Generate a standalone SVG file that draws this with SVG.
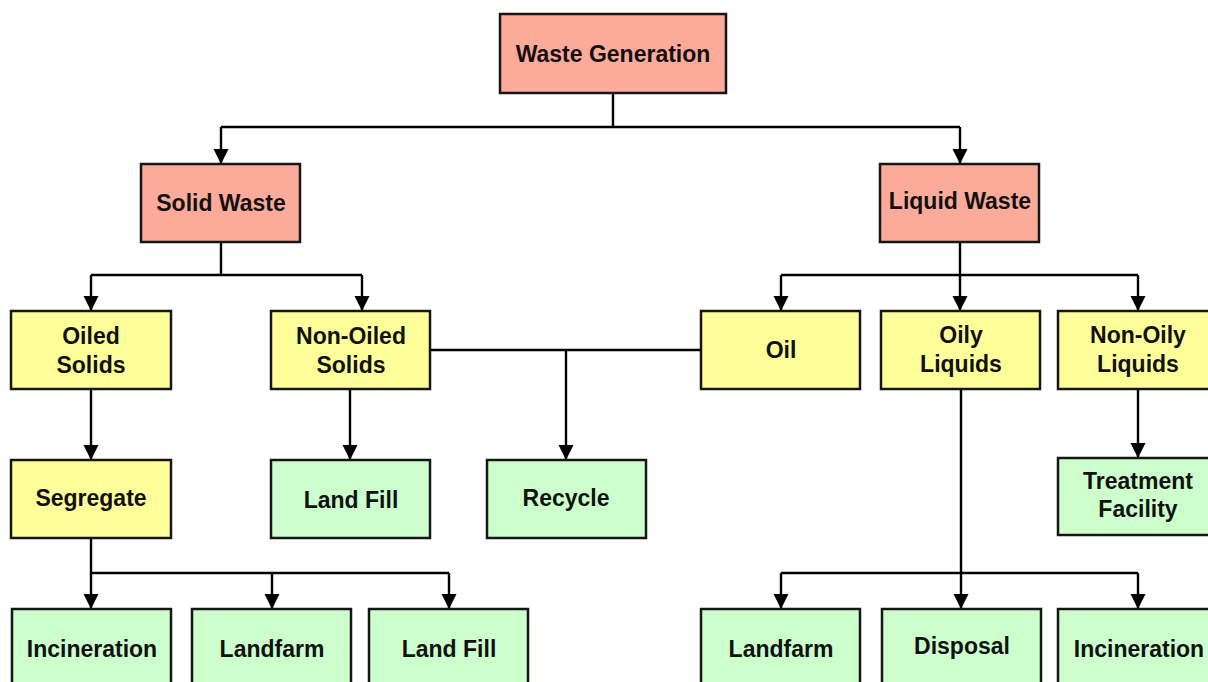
<svg xmlns="http://www.w3.org/2000/svg" width="1208" height="682" viewBox="0 0 1208 682">
  <style>
    .box { stroke: #161616; stroke-width: 2.5; }
    .top { fill: #FCAA9A; }
    .mid { fill: #FFFF99; }
    .end { fill: #CCFFCC; }
    .lbl { font-family: "Liberation Sans", Arial, sans-serif; font-weight: bold; font-size: 23px; fill: #111; text-anchor: middle; }
    .wire { fill: none; stroke: #000; stroke-width: 2.4; }
    .arrow { fill: none; stroke: #000; stroke-width: 2.4; marker-end: url(#head); }
  </style>
  <defs>
    <marker id="head" markerUnits="userSpaceOnUse" markerWidth="16" markerHeight="16" viewBox="0 0 16 16" refX="15" refY="8" orient="auto">
      <path d="M0,0.5 L15,8 L0,15.5 z" fill="#000"/>
    </marker>
  </defs>
  <rect width="1208" height="682" fill="#fff"/>

  <!-- connectors -->
  <g id="connectors">
    <!-- Waste Generation split -->
    <path class="wire" d="M613,93 V127 M221,127 H960"/>
    <path class="arrow" d="M221,127 V164"/>
    <path class="arrow" d="M960,127 V164"/>
    <!-- Solid Waste split -->
    <path class="wire" d="M221,242 V275 M91,275 H362"/>
    <path class="arrow" d="M91,275 V311"/>
    <path class="arrow" d="M362,275 V311"/>
    <!-- Liquid Waste split -->
    <path class="wire" d="M960,242 V275 M781,275 H1138"/>
    <path class="arrow" d="M781,275 V311"/>
    <path class="arrow" d="M960,275 V311"/>
    <path class="arrow" d="M1138,275 V311"/>
    <!-- second level to treatments -->
    <path class="arrow" d="M91,389 V460"/>
    <path class="arrow" d="M350,389 V460"/>
    <path class="wire" d="M430,350 H701"/>
    <path class="arrow" d="M566,350 V460"/>
    <path class="arrow" d="M1138,389 V458"/>
    <!-- Segregate split -->
    <path class="wire" d="M91,538 V573 M91,573 H449"/>
    <path class="arrow" d="M91,573 V609"/>
    <path class="arrow" d="M272,573 V609"/>
    <path class="arrow" d="M449,573 V609"/>
    <!-- Oily Liquids split -->
    <path class="wire" d="M961,389 V573 M781,573 H1138"/>
    <path class="arrow" d="M781,573 V609"/>
    <path class="arrow" d="M961,573 V609"/>
    <path class="arrow" d="M1138,573 V609"/>
  </g>

  <!-- nodes -->
  <g id="waste-generation">
    <rect class="box top" x="500" y="14" width="226" height="79"/>
    <text class="lbl" x="613" y="62">Waste Generation</text>
  </g>
  <g id="solid-waste">
    <rect class="box top" x="141" y="164" width="159" height="78"/>
    <text class="lbl" x="221" y="211">Solid Waste</text>
  </g>
  <g id="liquid-waste">
    <rect class="box top" x="880" y="164" width="159" height="78"/>
    <text class="lbl" x="960" y="209">Liquid Waste</text>
  </g>
  <g id="oiled-solids">
    <rect class="box mid" x="11" y="311" width="160" height="78"/>
    <text class="lbl" x="91" y="344">Oiled</text>
    <text class="lbl" x="91" y="373">Solids</text>
  </g>
  <g id="non-oiled-solids">
    <rect class="box mid" x="271" y="311" width="159" height="78"/>
    <text class="lbl" x="351" y="344">Non-Oiled</text>
    <text class="lbl" x="351" y="373">Solids</text>
  </g>
  <g id="oil">
    <rect class="box mid" x="701" y="311" width="159" height="78"/>
    <text class="lbl" x="781" y="358">Oil</text>
  </g>
  <g id="oily-liquids">
    <rect class="box mid" x="881" y="311" width="159" height="78"/>
    <text class="lbl" x="961" y="343">Oily</text>
    <text class="lbl" x="961" y="372">Liquids</text>
  </g>
  <g id="non-oily-liquids">
    <rect class="box mid" x="1058" y="311" width="160" height="78"/>
    <text class="lbl" x="1138" y="343">Non-Oily</text>
    <text class="lbl" x="1138" y="372">Liquids</text>
  </g>
  <g id="segregate">
    <rect class="box mid" x="11" y="460" width="160" height="78"/>
    <text class="lbl" x="91" y="506">Segregate</text>
  </g>
  <g id="land-fill-solids">
    <rect class="box end" x="271" y="460" width="159" height="78"/>
    <text class="lbl" x="351" y="508">Land Fill</text>
  </g>
  <g id="recycle">
    <rect class="box end" x="487" y="460" width="159" height="78"/>
    <text class="lbl" x="566" y="506">Recycle</text>
  </g>
  <g id="treatment-facility">
    <rect class="box end" x="1058" y="458" width="160" height="77"/>
    <text class="lbl" x="1138" y="489">Treatment</text>
    <text class="lbl" x="1138" y="517">Facility</text>
  </g>
  <g id="incineration-solids">
    <rect class="box end" x="12" y="609" width="159" height="80"/>
    <text class="lbl" x="92" y="657">Incineration</text>
  </g>
  <g id="landfarm-solids">
    <rect class="box end" x="192" y="609" width="159" height="80"/>
    <text class="lbl" x="272" y="657">Landfarm</text>
  </g>
  <g id="land-fill-segregated">
    <rect class="box end" x="369" y="609" width="159" height="80"/>
    <text class="lbl" x="449" y="657">Land Fill</text>
  </g>
  <g id="landfarm-liquids">
    <rect class="box end" x="701" y="609" width="159" height="80"/>
    <text class="lbl" x="781" y="657">Landfarm</text>
  </g>
  <g id="disposal">
    <rect class="box end" x="882" y="609" width="159" height="80"/>
    <text class="lbl" x="962" y="654">Disposal</text>
  </g>
  <g id="incineration-liquids">
    <rect class="box end" x="1058" y="609" width="160" height="80"/>
    <text class="lbl" x="1139" y="657">Incineration</text>
  </g>
</svg>
